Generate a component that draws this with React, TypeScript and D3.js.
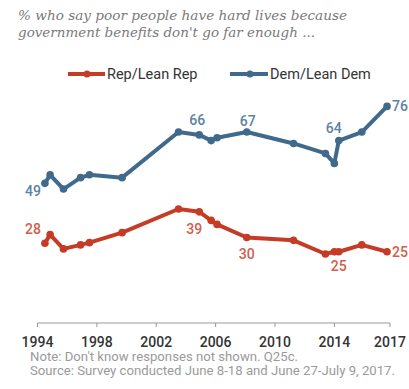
import React from "react";
import * as d3 from "d3";

const years = [1994.5, 1994.85, 1995.75, 1996.9, 1997.5, 1999.7, 2003.5, 2004.9, 2005.7, 2006.1, 2008.1, 2011.25, 2013.4, 2014.0, 2014.3, 2015.85, 2017.55];
const demValues = [49, 52, 47, 51, 52, 51, 67, 66, 64, 65, 67, 63, 59.5, 56, 64, 67, 76];
const repValues = [28, 31, 26, 27.4, 28.2, 31.7, 40, 39, 36, 34.6, 30, 29, 24.2, 25, 25, 27.4, 25];
const tickYears = [1994, 1998, 2002, 2006, 2010, 2014, 2017.75];
const tickLabels = ["1994", "1998", "2002", "2006", "2010", "2014", "2017"];

// labels: [index, text, dx, dy, anchor]
const demLabels: [number, string, number, number, string][] = [
  [0, "49", -4, 13, "end"],
  [7, "66", -2, -10, "middle"],
  [10, "67", 1, -6, "middle"],
  [14, "64", -5, -8, "middle"],
  [16, "76", 5, 5, "start"],
];
const repLabels: [number, string, number, number, string][] = [
  [0, "28", -4, -9, "end"],
  [7, "39", -5, 22, "middle"],
  [10, "30", 0, 21, "middle"],
  [14, "25", 0, 19, "middle"],
  [16, "25", 5, 5, "start"],
];

const BLUE = "#3f6a8c";
const BLUE_LABEL = "#5a83a4";
const RED = "#c63b26";
const RED_LABEL = "#d0604c";

export default function App() {
  const x = d3.scaleLinear().domain([1994, 2017.75]).range([37.5, 390]);
  const y = d3.scaleLinear().domain([0, 100]).range([323, 38]);
  const line = d3.line<number>().x((_, i) => x(years[i])).y((v) => y(v));

  const series = [
    { values: repValues, color: RED, labelColor: RED_LABEL, labels: repLabels },
    { values: demValues, color: BLUE, labelColor: BLUE_LABEL, labels: demLabels },
  ];

  return (
    <svg width={409} height={389} style={{ position: "absolute", left: 0, top: 0, background: "#fff" }}>
      <g fontFamily="'DejaVu Serif', serif" fontStyle="italic" fill="#7a7a7a" fontSize={13.2}>
        <text x={18} y={20} textLength={329} lengthAdjust="spacingAndGlyphs">% who say poor people have hard lives because</text>
        <text x={18} y={37} textLength={297} lengthAdjust="spacingAndGlyphs">government benefits don't go far enough ...</text>
      </g>
      <g fontFamily="Roboto, 'Liberation Sans', sans-serif" fontSize={14.5} fill="#333">
        <line x1={68} x2={105} y1={74} y2={74} stroke={RED} strokeWidth={4} />
        <circle cx={87} cy={74} r={3.5} fill={RED} />
        <text x={107} y={79}>Rep/Lean Rep</text>
        <line x1={230} x2={268} y1={74} y2={74} stroke={BLUE} strokeWidth={4} />
        <circle cx={250} cy={74} r={3.5} fill={BLUE} />
        <text x={270} y={79}>Dem/Lean Dem</text>
      </g>
      {series.map((s, si) => (
        <g key={si}>
          <path d={line(s.values) || ""} fill="none" stroke={s.color} strokeWidth={4} strokeLinejoin="round" />
          {s.values.map((v, i) => (
            <circle key={i} cx={x(years[i])} cy={y(v)} r={3.8} fill={s.color} />
          ))}
          {s.labels.map(([i, t, dx, dy, anchor], k) => (
            <text key={k} x={x(years[i]) + dx} y={y(s.values[i]) + dy} textAnchor={anchor as any}
              fontFamily="Roboto, 'Liberation Sans', sans-serif" fontSize={14} fontWeight={500} fill={s.labelColor}>
              {t}
            </text>
          ))}
        </g>
      ))}
      <g>
        <line x1={x(1994)} x2={x(2017.75)} y1={323} y2={323} stroke="#999" strokeWidth={1} />
        {tickYears.map((t, i) => (
          <g key={i}>
            <line x1={x(t)} x2={x(t)} y1={323} y2={327} stroke="#999" />
            <text x={x(t)} y={347} textAnchor="middle" fontFamily="Roboto, 'Liberation Sans', sans-serif" fontSize={14} fontWeight={500} fill="#333">
              {tickLabels[i]}
            </text>
          </g>
        ))}
      </g>
      <g fontFamily="Roboto, 'Liberation Sans', sans-serif" fontSize={12} fill="#9a9a9a">
        <text x={30} y={361} textLength={268} lengthAdjust="spacingAndGlyphs">Note: Don't know responses not shown. Q25c.</text>
        <text x={30} y={375} textLength={365} lengthAdjust="spacingAndGlyphs">Source: Survey conducted June 8-18 and June 27-July 9, 2017.</text>
      </g>
    </svg>
  );
}
